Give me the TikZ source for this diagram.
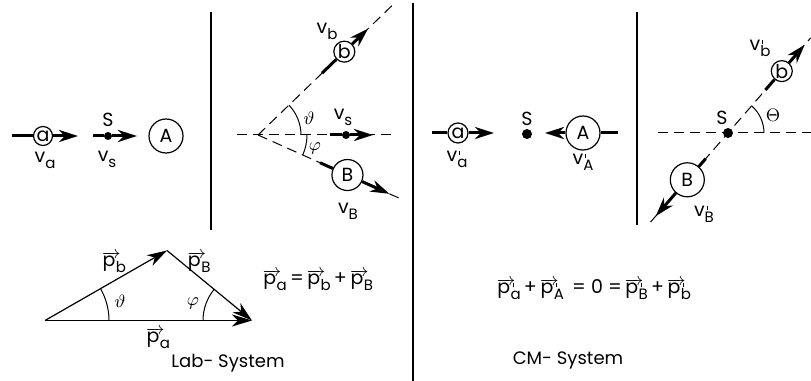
\documentclass[tikz,border=0pt]{standalone}
\usepackage{fontspec}
\setmainfont{Poppins}
\usetikzlibrary{arrows.meta}
\newcommand\subsz{\fontsize{7.5}{8}\selectfont}
\newcommand\vsub[2]{#1\raisebox{-0.55ex}{\subsz #2}}
\newcommand\tick{\rule{0.5pt}{0.45ex}}
\newcommand\ptick{\rlap{\hspace{0.1em}\raisebox{0.6ex}{\tick}}}
\newcommand\vpsub[2]{#1\ptick\raisebox{-0.55ex}{\subsz #2}}
\newcommand\pvec{\ensuremath{\overrightarrow{\hbox{p\kern0.25em}}}\kern-0.25em}
\begin{document}
\begin{tikzpicture}[x=0.5pt,y=0.5pt,
  thk/.style={line width=1.5pt},
  dsh/.style={line width=0.5pt,dash pattern=on 5pt off 3pt},
  arr/.style={thk,-{Stealth[length=9.5pt,width=6pt,inset=3pt]}},
  varr/.style={line width=0.6pt,-{Stealth[length=10pt,width=6pt,inset=3pt]}},
  ptl/.style={circle,draw,fill=white,line width=0.6pt,inner sep=0pt,font=\fontsize{9.5}{10}\selectfont},
  dot/.style={circle,fill,inner sep=0pt,minimum size=4pt},
  lbl/.style={font=\fontsize{9.5}{11}\selectfont,inner sep=0pt},
  sep/.style={line width=0.9pt},
  ang/.style={line width=0.5pt}]
\useasboundingbox (0,0) rectangle (811,381);
% ---------- Lab panel 1
\node[ptl,minimum size=9.5pt] (a1) at (43,245) {a};
\coordinate (a1s) at (12,245);
\coordinate (a1e) at (78,245);
\draw[thk] (a1s) -- (a1);
\draw[arr] (a1) -- (a1e);
\node[lbl] (va) at (45,221) {\vsub{v}{a}};
\node[dot] (s1) at (108,245) {};
\coordinate (s1s) at (93,245);
\coordinate (s1e) at (137,245);
\draw[thk] (s1s) -- (s1);
\draw[arr] (s1) -- (s1e);
\node[lbl] (s1l) at (108,261) {S};
\node[lbl] (vs1) at (107,222) {\vsub{v}{s}};
\node[ptl,minimum size=17pt] (A1) at (166,245) {A};
\coordinate (sep1t) at (211,369);
\coordinate (sep1b) at (211,151);
\draw[sep] (sep1t) -- (sep1b);
% ---------- Lab panel 2
\coordinate (V) at (258,246);
\coordinate (hl) at (237,246);
\coordinate (hr) at (392,246);
\draw[dsh] (hl) -- (hr);
\path (V) ++(44:188) coordinate (up);
\path (V) ++(-24.1:160) coordinate (dn);
\draw[dsh] (V) -- (up);
\draw[dsh] (V) -- (dn);
\path (V) ++(44:120) node[ptl,minimum size=10.5pt] (b2) {b};
\path (V) ++(44:89) coordinate (b2s);
\path (V) ++(44:153) coordinate (b2e);
\draw[thk] (b2s) -- (b2);
\draw[arr] (b2) -- (b2e);
\node[lbl] (vb) at (327,350) {\vsub{v}{b}};
\path (V) ++(-24.1:98) node[ptl,minimum size=15.5pt] (B2) {B};
\path (V) ++(-24.1:68) coordinate (B2s);
\path (V) ++(-24.1:144) coordinate (B2e);
\draw[thk] (B2s) -- (B2);
\draw[arr] (B2) -- (B2e);
\node[lbl] (vB) at (348,170) {\vsub{v}{B}};
\draw[ang] (V) ++(0:43) arc[start angle=0,end angle=44,radius=43];
\draw[ang] (V) ++(-24.1:49) arc[start angle=-24.1,end angle=0,radius=49];
\node[lbl] (th1) at (309,263) {$\vartheta$};
\node[lbl] (ph1) at (315,233) {$\varphi$};
\node[dot] (s2) at (346,246) {};
\coordinate (s2s) at (330,246);
\coordinate (s2e) at (373,246);
\draw[thk] (s2s) -- (s2);
\draw[arr] (s2) -- (s2e);
\node[lbl] (vs2) at (343,264) {\vsub{v}{s}};
\coordinate (sep2t) at (413,378);
\coordinate (sep2b) at (413,0);
\draw[sep] (sep2t) -- (sep2b);
% ---------- CM panel 1
\node[ptl,minimum size=10pt] (a3) at (458,248) {a};
\coordinate (a3s) at (432,248);
\coordinate (a3e) at (494,248);
\draw[thk] (a3s) -- (a3);
\draw[arr] (a3) -- (a3e);
\node[lbl] (va3) at (457,222) {\vpsub{v}{a}};
\node[dot,minimum size=5pt] (s3) at (527,247) {};
\node[lbl] (s3l) at (527,262) {S};
\node[ptl,minimum size=17pt] (A3) at (583,248) {A};
\coordinate (A3e) at (545,248);
\coordinate (A3s) at (618,248);
\draw[thk] (A3s) -- (A3);
\draw[arr] (A3) -- (A3e);
\node[lbl] (vA3) at (583,219) {\vpsub{v}{A}};
\coordinate (sep3t) at (637,369);
\coordinate (sep3b) at (637,156);
\draw[sep] (sep3t) -- (sep3b);
% ---------- CM panel 2
\coordinate (h4l) at (658,248);
\coordinate (h4r) at (811,248);
\draw[dsh] (h4l) -- (h4r);
\node[dot,minimum size=5pt] (s4) at (728,248) {};
\path (s4.center) ++(49:126) coordinate (d4u);
\path (s4.center) ++(229:118) coordinate (d4d);
\draw[dsh] (d4d) -- (d4u);
\node[lbl] (s4l) at (722,263) {S};
\path (s4.center) ++(49:82) node[ptl,minimum size=10.5pt] (b4) {b};
\path (s4.center) ++(49:57) coordinate (b4s);
\path (s4.center) ++(49:117) coordinate (b4e);
\draw[thk] (b4s) -- (b4);
\draw[arr] (b4) -- (b4e);
\node[lbl] (vb4) at (760,333) {\vpsub{v}{b}};
\path (s4.center) ++(229:62) node[ptl,minimum size=17pt] (B4) {B};
\path (s4.center) ++(229:34) coordinate (B4s);
\path (s4.center) ++(229:110) coordinate (B4e);
\draw[thk] (B4s) -- (B4);
\draw[arr] (B4) -- (B4e);
\node[lbl] (vB4) at (704,167) {\vpsub{v}{B}};
\draw[ang] (s4.center) ++(0:36) arc[start angle=0,end angle=49,radius=36];
\node[lbl] (th4) at (773,266) {$\Theta$};
% ---------- momentum triangle
\coordinate (L) at (45,60.5);
\coordinate (T) at (167,130.5);
\coordinate (R) at (252,60.5);
\draw[varr] (L) -- (T);
\draw[varr] (T) -- (R);
\draw[varr] (L) -- (R);
\draw[ang] (L) ++(0:64) arc[start angle=0,end angle=29.8,radius=64];
\draw[ang] (R) ++(180:49) arc[start angle=180,end angle=140.2,radius=49];
\node[lbl] (th5) at (120,80) {$\vartheta$};
\node[lbl] (ph5) at (193,78) {$\varphi$};
\node[lbl] (pb) at (114,119) {\pvec\raisebox{-0.55ex}{\subsz b}};
\node[lbl] (pB) at (199,119) {\pvec\raisebox{-0.55ex}{\subsz B}};
\node[lbl] (pa) at (158,43) {\pvec\raisebox{-0.55ex}{\subsz a}};
\node[lbl,font=\fontsize{9}{11}\selectfont] (lab) at (228,18) {Lab- System};
\node[lbl] (eq1) at (318,101) {\pvec\raisebox{-0.55ex}{\subsz a}\,=\,\pvec\raisebox{-0.55ex}{\subsz b}\,+\,\pvec\raisebox{-0.55ex}{\subsz B}};
\node[lbl] (eq2) at (594,92) {\pvec\ptick\raisebox{-0.55ex}{\subsz a}\,+\,\pvec\ptick\raisebox{-0.55ex}{\subsz A}\, = 0 =\,\pvec\ptick\raisebox{-0.55ex}{\subsz B}\,+\,\pvec\ptick\raisebox{-0.55ex}{\subsz b}};
\node[lbl,font=\fontsize{9}{11}\selectfont] (cm) at (568,21) {CM- System};
\end{tikzpicture}
\end{document}
